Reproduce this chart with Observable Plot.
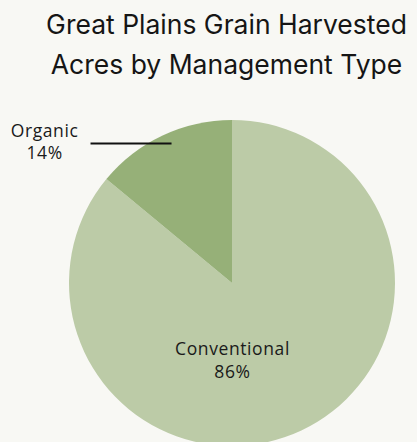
<!DOCTYPE html>
<html>
<head>
<meta charset="utf-8">
<script src="https://cdn.jsdelivr.net/npm/d3@7"></script>
<script src="https://cdn.jsdelivr.net/npm/@observablehq/plot@0.6"></script>
<style>
  html, body { margin: 0; padding: 0; background: #f8f8f4; width: 417px; height: 442px; overflow: hidden; }
  #title { height: 90px; box-sizing: border-box; padding-top: 4px; padding-left: 36px; text-align: center;
    font-family: Inter, "Open Sans", sans-serif; font-size: 26.5px; line-height: 40px; color: #151515;
    white-space: nowrap; }
  #chart svg { display: block; }
</style>
</head>
<body>
<div id="title">Great Plains Grain Harvested<br>Acres by Management Type</div>
<div id="chart"></div>
<script>
const categories = ["Conventional", "Organic"];
const shares = [86, 14];
const colors = ["#bccba7", "#96b078"];
// label anchor positions (in pie-radius units, relative to the pie centre)
const labelX = [0, -1.153];
const labelY = [-0.577, 0.761];
// leader line for the Organic label
const leaderX = [-0.871, -0.374];
const leaderY = [0.859, 0.859];

const data = categories.map((c, i) => ({ category: c, share: shares[i], color: colors[i],
  label: `${c}\n${shares[i]}%`, lx: labelX[i], ly: labelY[i] }));

const arcs = d3.pie().sort(null).value(d => d.share)(data);

const pieMark = (index, scales, values, dimensions, context) => {
  const cx = scales.x(0), cy = scales.y(0);
  const r = scales.x(1) - scales.x(0);
  const g = d3.create("svg:g").attr("transform", `translate(${cx},${cy})`);
  const arc = d3.arc().innerRadius(0).outerRadius(r);
  g.selectAll("path").data(arcs).join("path")
    .attr("d", arc)
    .attr("fill", d => d.data.color);
  return g.node();
};

const chart = Plot.plot({
  width: 417,
  height: 352,
  margin: 0,
  style: { background: "transparent", overflow: "visible" },
  x: { domain: [-232 / 163, 185 / 163], axis: null },
  y: { domain: [-159 / 163, 193 / 163], axis: null },
  marks: [
    pieMark,
    Plot.link([{ x1: leaderX[0], x2: leaderX[1], y1: leaderY[0], y2: leaderY[1] }],
      { x1: "x1", x2: "x2", y1: "y1", y2: "y2", stroke: "#111", strokeWidth: 2 }),
    Plot.text(data, { x: "lx", y: "ly", text: "label", lineAnchor: "bottom", lineHeight: 1.29,
      fontSize: 17.5, fontFamily: "'Open Sans', sans-serif", fill: "#1a1a1a" })
  ]
});
chart.querySelectorAll("text").forEach(t => t.style.letterSpacing = "0.6px");
document.getElementById("chart").appendChild(chart);
</script>
</body>
</html>
